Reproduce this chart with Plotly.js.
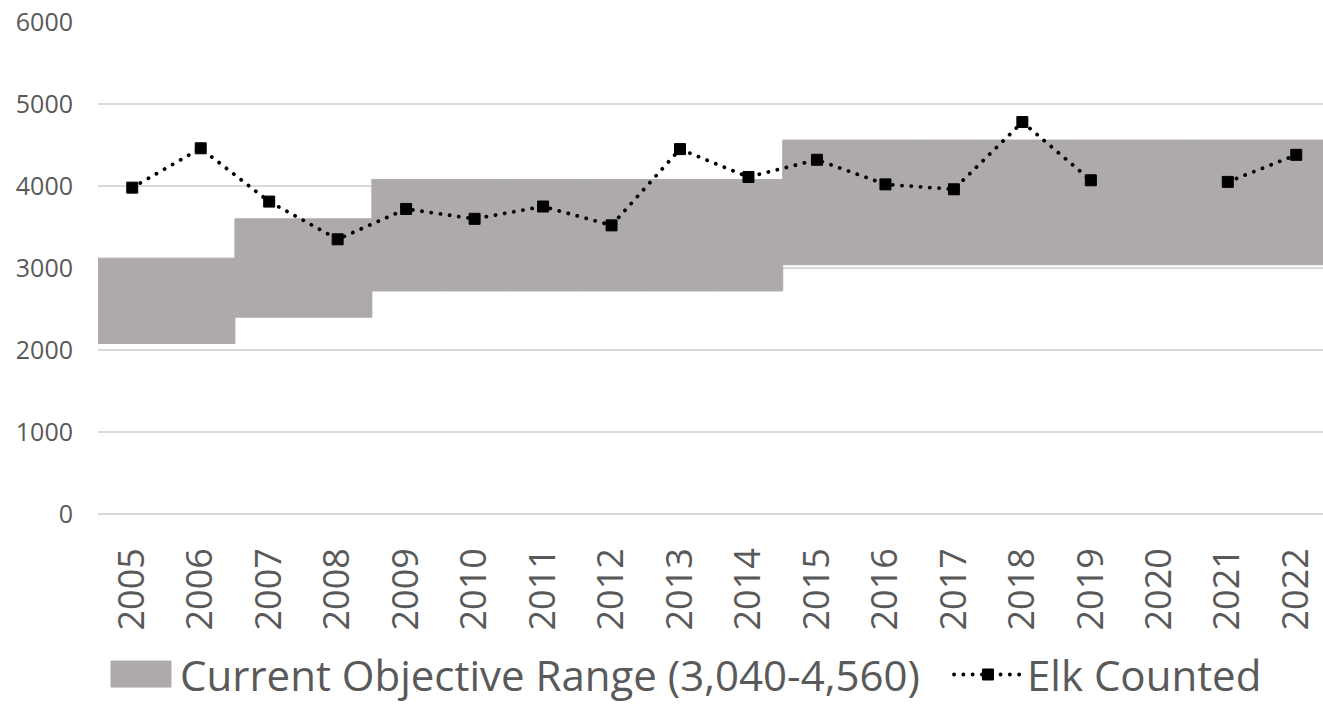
<!DOCTYPE html>
<html>
<head>
<meta charset="utf-8">
<script src="https://cdn.plot.ly/plotly-3.0.1.min.js"></script>
<style>
html,body{margin:0;padding:0;background:#fff;}
#chart{width:1323px;height:705px;}
.scatterlayer .js-line, .legendlines path { stroke-linecap: round !important; }
</style>
</head>
<body>
<div id="chart"></div>
<script>
const years = ['2005','2006','2007','2008','2009','2010','2011','2012','2013','2014','2015','2016','2017','2018','2019','2020','2021','2022'];
const rangeLow  = [2080,2080,2400,2400,2720,2720,2720,2720,2720,2720,3040,3040,3040,3040,3040,3040,3040,3040];
const rangeHigh = [3120,3120,3600,3600,4080,4080,4080,4080,4080,4080,4560,4560,4560,4560,4560,4560,4560,4560];
const elkCounted = [3980,4460,3810,3350,3720,3600,3750,3520,4450,4110,4320,4020,3960,4780,4070,null,4050,4380];
const yTicks = [0,1000,2000,3000,4000,5000,6000];

const GRAY = '#AEAAAA';
const TXT = '#595959';
const FONT = 'Open Sans, sans-serif';

const band = {
  type: 'bar',
  name: 'Current Objective Range (3,040-4,560)',
  x: years,
  base: rangeLow,
  y: rangeHigh.map((h, i) => h - rangeLow[i]),
  marker: {color: GRAY, line: {color: GRAY, width: 1}},
  legendwidth: 764,
  hoverinfo: 'skip'
};
const elk = {
  type: 'scatter',
  mode: 'lines+markers',
  name: 'Elk Counted',
  x: years,
  y: elkCounted,
  connectgaps: false,
  line: {color: '#000', width: 3.8, dash: '0.1px,9.2px'},
  marker: {symbol: 'square', size: 11, color: '#000', line: {color: '#000', width: 1}}
};

const catW = 68.5;
const plotL = 97.5;
const plotW = 1323 - plotL;

const layout = {
  width: 1323, height: 705,
  margin: {l: plotL, r: 0, t: 22, b: 190.5, pad: 0},
  paper_bgcolor: '#fff', plot_bgcolor: '#fff',
  showlegend: true,
  bargap: 0,
  font: {family: FONT, color: TXT},
  xaxis: {
    type: 'category',
    range: [-0.5, -0.5 + plotW / catW],
    tickangle: -90,
    tickfont: {family: FONT, size: 36, color: TXT},
    ticks: '', showgrid: false, zeroline: false, showline: false,
    ticklabelstandoff: 26,
    fixedrange: true
  },
  yaxis: {
    range: [0, 6000],
    tickvals: yTicks,
    ticktext: yTicks.map(String),
    tickfont: {family: FONT, size: 25, color: TXT},
    showgrid: true, gridcolor: '#d9d9d9', gridwidth: 1.3,
    zeroline: true, zerolinecolor: '#d9d9d9', zerolinewidth: 1.3,
    showline: false, ticks: '',
    ticklabelstandoff: 24,
    fixedrange: true
  },
  legend: {
    orientation: 'h',
    xref: 'container', yref: 'container',
    x: 102 / 1323, xanchor: 'left',
    y: 0.043, yanchor: 'middle',
    font: {family: FONT, size: 42, color: TXT},
    itemwidth: 68,
    bgcolor: 'rgba(0,0,0,0)'
  }
};

Plotly.newPlot('chart', [band, elk], layout, {displayModeBar: false, staticPlot: true}).then(function (gd) {
  // enlarge the bar swatch in the legend to match the reference (60 x 26 block)
  const pts = gd.querySelectorAll('.legend .traces .legendpoints path');
  pts.forEach(function (p) {
    const d = p.getAttribute('d') || '';
    if (/^M6,6H-6V-6H6Z/.test(d)) {
      p.setAttribute('d', 'M30,12.6H-30V-13.4H30Z');
    }
  });
});
</script>
</body>
</html>
